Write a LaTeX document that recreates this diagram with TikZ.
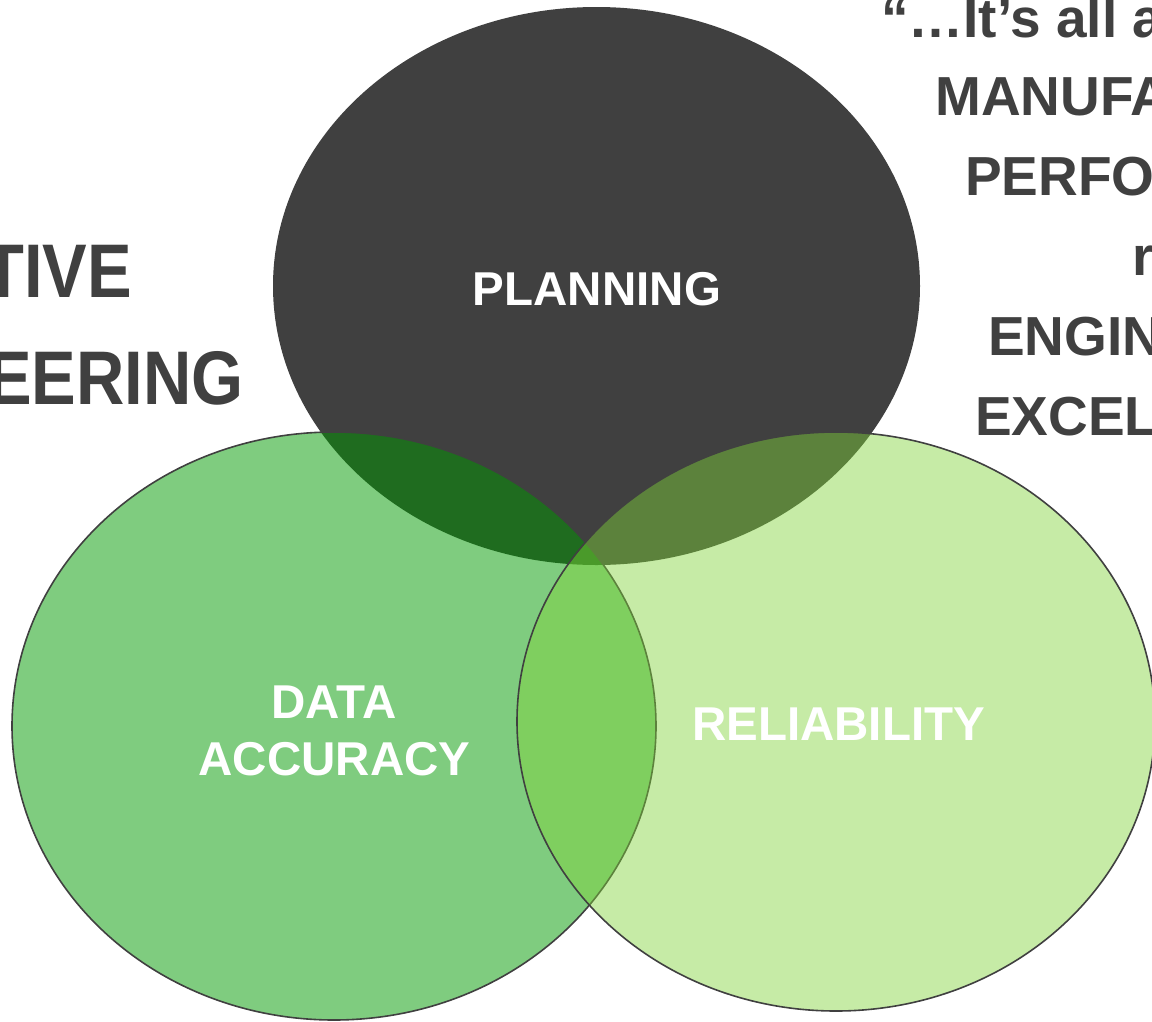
\documentclass[tikz,border=0pt]{standalone}
\usepackage{fontspec}
\setmainfont{Liberation Sans}
\definecolor{darkgray}{HTML}{404040}
\definecolor{leftgreen}{HTML}{009900}
\definecolor{rightgreen}{RGB}{128,211,57}
\tikzset{
  circlab/.style={text=white, font=\fontsize{47.5}{57}\selectfont\bfseries, inner sep=0pt, anchor=base},
  sidetext/.style={text=darkgray, font=\fontsize{55}{66}\selectfont\bfseries, inner sep=0pt, anchor=base west},
  bigtext/.style={text=darkgray, font=\fontsize{76}{90}\selectfont\bfseries, inner sep=0pt, anchor=base east},
  greenring/.style={draw=darkgray, line width=1.6pt}
}
\begin{document}
\begin{tikzpicture}[x=1pt,y=-1pt]
\useasboundingbox (0,0) rectangle (1152,1021);
% circles
\fill[darkgray] (596.5,286) ellipse [x radius=323.5, y radius=279];
\path[greenring, fill=leftgreen, fill opacity=0.5] (334,726) ellipse [x radius=322, y radius=294];
\path[greenring, fill=rightgreen, fill opacity=0.45] (836,721.5) ellipse [x radius=319, y radius=289.5];
% labels
\node[circlab] (plan) at (597,305) {PLANNING};
\node[circlab] (data) at (334,718) {DATA};
\node[circlab] (acc) at (334.5,775) {ACCURACY};
\node[circlab] (rel) at (838.5,740) {RELIABILITY};
% left text
\node[bigtext] (tive) at (132,297) {\scalebox{0.88}[1]{TIVE}};
\node[bigtext] (eering) at (244,404) {\scalebox{0.88}[1]{EERING}};
% right text
\node[sidetext] (q1) at (881,37) {“…It’s all about};
\node[sidetext] (q2) at (935,115) {MANUFACTURING};
\node[sidetext] (q3) at (965,195) {PERFORMANCE};
\node[sidetext] (q4) at (1132,275) {r};
\node[sidetext] (q5) at (988,355) {ENGINEERING};
\node[sidetext] (q6) at (975,435) {EXCELLENCE};
\end{tikzpicture}
\end{document}
